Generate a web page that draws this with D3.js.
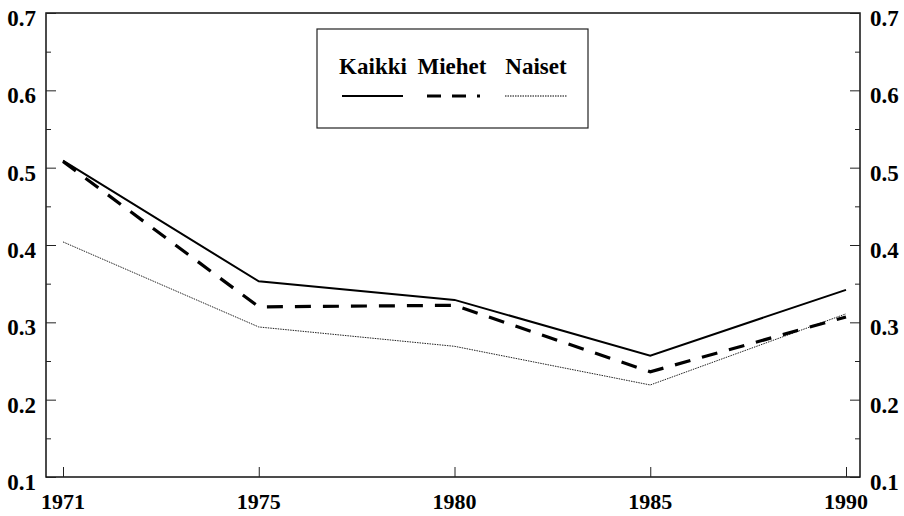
<!DOCTYPE html>
<html>
<head>
<meta charset="utf-8">
<script src="https://cdn.jsdelivr.net/npm/d3@7"></script>
<style>
  body { margin: 0; background: #fff; }
  text { font-family: "Liberation Serif", "Times New Roman", serif; font-weight: bold; }
</style>
</head>
<body>
<svg id="chart" width="904" height="516"></svg>
<script>
// data
const years = ["1971", "1975", "1980", "1985", "1990"];
const kaikki = [0.509, 0.353, 0.329, 0.257, 0.342];
const miehet = [0.508, 0.320, 0.322, 0.236, 0.307];
const naiset = [0.404, 0.294, 0.269, 0.219, 0.311];
const yTicks = [0.1, 0.2, 0.3, 0.4, 0.5, 0.6, 0.7];
const yMinor = [0.15, 0.25, 0.35, 0.45, 0.55, 0.65];

const svg = d3.select("#chart");
const box = {left: 46, right: 860, top: 13, bottom: 477};

const x = d3.scalePoint().domain(years).range([63, 846]);
const y = d3.scaleLinear().domain([0.1, 0.7]).range([box.bottom, box.top]);

// frame
svg.append("rect")
  .attr("x", box.left).attr("y", box.top)
  .attr("width", box.right - box.left).attr("height", box.bottom - box.top)
  .attr("fill", "none").attr("stroke", "#111").attr("stroke-width", 1.5);

// left + right axes, ticks point inward
const left = svg.append("g").attr("transform", `translate(${box.left},0)`);
left.call(d3.axisRight(y).tickValues(yTicks).tickSize(10).tickFormat(""));
left.append("g").call(d3.axisRight(y).tickValues(yMinor).tickSize(5).tickFormat(""));
const right = svg.append("g").attr("transform", `translate(${box.right},0)`);
right.call(d3.axisLeft(y).tickValues(yTicks).tickSize(10).tickFormat(""));
right.append("g").call(d3.axisLeft(y).tickValues(yMinor).tickSize(5).tickFormat(""));
const bottom = svg.append("g").attr("transform", `translate(0,${box.bottom})`);
bottom.call(d3.axisTop(x).tickSize(10).tickFormat(""));
svg.selectAll(".domain").remove();
svg.selectAll(".tick line").attr("stroke", "#222").attr("stroke-width", 1);

// tick labels
svg.append("g").selectAll("text").data(yTicks).join("text")
  .attr("x", 36).attr("y", d => y(d) + 13)
  .attr("text-anchor", "end").attr("font-size", 23)
  .text(d => d3.format(".1f")(d));
svg.append("g").selectAll("text").data(yTicks).join("text")
  .attr("x", 870).attr("y", d => y(d) + 13)
  .attr("text-anchor", "start").attr("font-size", 23)
  .text(d => d3.format(".1f")(d));
svg.append("g").selectAll("text").data(years).join("text")
  .attr("x", d => x(d)).attr("y", 509)
  .attr("text-anchor", "middle").attr("font-size", 22)
  .text(d => d);

// lines
const line = d3.line().x((d, i) => x(years[i])).y(d => y(d));
svg.append("path").datum(naiset).attr("d", line)
  .attr("fill", "none").attr("stroke", "#222").attr("stroke-width", 1)
  .attr("stroke-dasharray", "1.5,1");
svg.append("path").datum(miehet).attr("d", line)
  .attr("fill", "none").attr("stroke", "#000").attr("stroke-width", 3.2)
  .attr("stroke-dasharray", "16,12");
svg.append("path").datum(kaikki).attr("d", line)
  .attr("fill", "none").attr("stroke", "#000").attr("stroke-width", 2);

// legend
const lg = svg.append("g");
lg.append("rect").attr("x", 317).attr("y", 29).attr("width", 271).attr("height", 99)
  .attr("fill", "#fff").attr("stroke", "#222").attr("stroke-width", 1.2);
const items = [
  {name: "Kaikki", x0: 342, x1: 403, tx: 373, w: 2, dash: null},
  {name: "Miehet", x0: 427, x1: 487, tx: 452, w: 3.2, dash: "14,11,14,11,3,12"},
  {name: "Naiset", x0: 505, x1: 567, tx: 536, w: 1, dash: "1.5,1"}
];
items.forEach(it => {
  lg.append("text").attr("x", it.tx).attr("y", 74)
    .attr("text-anchor", "middle").attr("font-size", 23).text(it.name);
  lg.append("line").attr("x1", it.x0).attr("x2", it.x1).attr("y1", 96).attr("y2", 96)
    .attr("stroke", "#000").attr("stroke-width", it.w)
    .attr("stroke-dasharray", it.dash);
});
</script>
</body>
</html>
